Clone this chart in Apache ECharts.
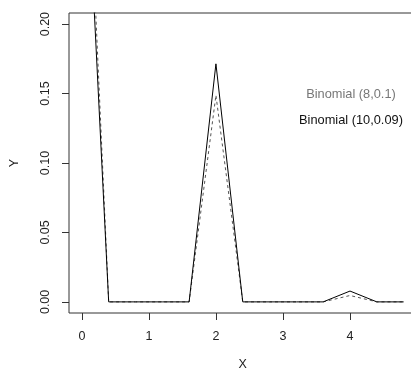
<!DOCTYPE html>
<html>
<head>
<meta charset="utf-8">
<script src="https://cdn.jsdelivr.net/npm/echarts@6/dist/echarts.min.js"></script>
<style>html,body{margin:0;padding:0;background:#fff;overflow:hidden;width:411px;height:370px}#wrap{width:411px;height:370px;overflow:hidden;position:relative}#c{width:420px;height:370px;position:absolute;left:0;top:0}</style>
</head>
<body>
<div id="wrap"><div id="c"></div></div>
<script>
var xValues = [0, 0.4, 0.8, 1.2, 1.6, 2.0, 2.4, 2.8, 3.2, 3.6, 4.0, 4.4, 4.8];
var binom8 = [0.4305, 0, 0, 0, 0, 0.1488, 0, 0, 0, 0, 0.0046, 0, 0];
var binom10 = [0.3894, 0, 0, 0, 0, 0.1714, 0, 0, 0, 0, 0.0078, 0, 0];
var xTicks = [0, 1, 2, 3, 4];
var yTicks = [0, 0.05, 0.1, 0.15, 0.2];
var yTickLabels = ['0.00', '0.05', '0.10', '0.15', '0.20'];
var seriesNames = ['Binomial (8,0.1)', 'Binomial (10,0.09)'];

function pairs(xs, ys) { return xs.map(function (x, i) { return [x, ys[i]]; }); }

var font = 'Liberation Sans, Arial, Helvetica, sans-serif';
var chart = echarts.init(document.getElementById('c'), null, {renderer: 'canvas'});
chart.setOption({
  animation: false,
  backgroundColor: '#fff',
  grid: {left: 69, top: 13, right: 3.5, bottom: 57, outerBoundsMode: 'none', show: true, borderColor: '#333', borderWidth: 1, backgroundColor: 'transparent'},
  xAxis: {
    type: 'value', min: -0.192, max: 4.992,
    name: 'X', nameLocation: 'middle', nameGap: 45,
    nameTextStyle: {fontFamily: font, fontSize: 12.5, color: '#222'},
    axisLine: {show: false, onZero: false},
    splitLine: {show: false},
    axisTick: {show: true, length: 7, inside: false, customValues: xTicks, lineStyle: {color: '#333'}},
    axisLabel: {customValues: xTicks, margin: 17, fontFamily: font, fontSize: 12.5, color: '#222', formatter: function (v) { return String(v); }}
  },
  yAxis: {
    type: 'value', min: -0.008, max: 0.208,
    name: 'Y', nameLocation: 'middle', nameGap: 48, nameRotate: 90,
    nameTextStyle: {fontFamily: font, fontSize: 12.5, color: '#222'},
    axisLine: {show: false, onZero: false},
    splitLine: {show: false},
    axisTick: {show: true, length: 7, inside: false, customValues: yTicks, lineStyle: {color: '#333'}},
    axisLabel: {customValues: yTicks, rotate: 90, margin: 17, fontFamily: font, fontSize: 12.5, color: '#222',
      formatter: function (v) { var i = yTicks.indexOf(Math.round(v * 100) / 100); return i >= 0 ? yTickLabels[i] : v.toFixed(2); }}
  },
  series: [
    {name: seriesNames[0], type: 'line', data: pairs(xValues, binom8), symbol: 'none', clip: true,
      lineStyle: {color: '#555', width: 1, type: [3, 3]}, z: 2},
    {name: seriesNames[1], type: 'line', data: pairs(xValues, binom10), symbol: 'none', clip: true,
      lineStyle: {color: '#000', width: 1, type: 'solid'}, z: 3}
  ],
  graphic: [
    {type: 'text', style: {text: seriesNames[0], x: 351, y: 94, textAlign: 'center', textVerticalAlign: 'middle', fill: '#777', font: '12.8px ' + font}},
    {type: 'text', style: {text: seriesNames[1], x: 351, y: 120, textAlign: 'center', textVerticalAlign: 'middle', fill: '#111', font: '12.8px ' + font}}
  ]
});
</script>
</body>
</html>
